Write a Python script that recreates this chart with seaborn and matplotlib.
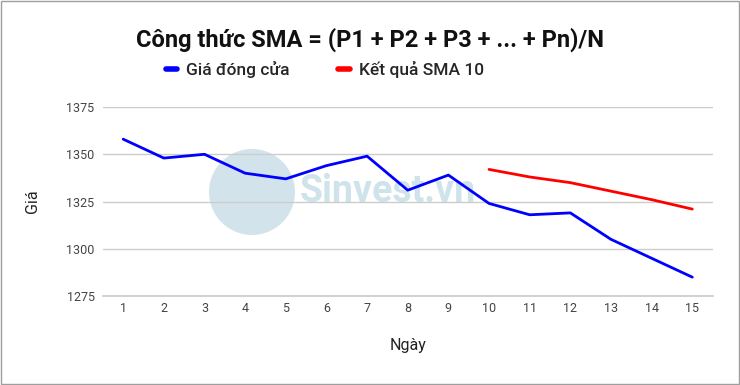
import numpy as np
import pandas as pd
import matplotlib
matplotlib.use('Agg')
import matplotlib.pyplot as plt
import seaborn as sns
from matplotlib.patches import Rectangle, Ellipse

# data
ngay = list(range(1, 16))
gia_dong_cua = [1358, 1348, 1350, 1340, 1337, 1344, 1349, 1331, 1339, 1324,
                1318, 1319, 1305, 1295, 1285]
ngay_sma = list(range(10, 16))
sma_10 = [1342, 1338, 1335, 1330.5, 1326, 1321]
y_ticks = [1275, 1300, 1325, 1350, 1375]

sns.set_theme(style='white')
plt.rcParams['font.family'] = ['Roboto', 'DejaVu Sans']

df_price = pd.DataFrame({'Ngày': ngay, 'Giá': gia_dong_cua})
df_sma = pd.DataFrame({'Ngày': ngay_sma, 'Giá': sma_10})

fig = plt.figure(figsize=(7.4, 3.85), dpi=100)
ax = fig.add_axes([0.139, 0.231, 0.824, 0.491])
ax.set_zorder(2)
ax.patch.set_alpha(0)

# watermark (behind the plot)
fig.patches.append(Ellipse((252 / 740, 1 - 192 / 385), 86 / 740, 86 / 385,
                           transform=fig.transFigure, facecolor='#c9dde7',
                           edgecolor='none', alpha=0.8, zorder=0))
fig.text(300 / 740, 1 - 192 / 385, 'Sinvest.vn', fontsize=27, fontweight='bold',
         color='#cfe3ea', ha='left', va='center', zorder=0)

sns.lineplot(data=df_price, x='Ngày', y='Giá', color='#0000ff', linewidth=2,
             label='Giá đóng cửa', ax=ax, legend=False)
sns.lineplot(data=df_sma, x='Ngày', y='Giá', color='#ff0000', linewidth=2,
             label='Kết quả SMA 10', ax=ax, legend=False)

ax.set_xlim(0.5, 15.5)
ax.set_ylim(1275, 1375)
ax.set_xticks(ngay)
ax.set_yticks(y_ticks)
ax.grid(axis='y', color='#cccccc', linewidth=1)
ax.grid(axis='x', visible=False)
for s in ['top', 'right', 'left']:
    ax.spines[s].set_visible(False)
ax.spines['bottom'].set_color('#cccccc')
ax.tick_params(axis='both', length=0, labelsize=9, labelcolor='#444444')
ax.tick_params(axis='x', pad=4)
ax.tick_params(axis='y', pad=6)
ax.set_xlabel('Ngày', fontsize=11.5, color='#222222', labelpad=17)
ax.set_ylabel('Giá', fontsize=11.5, color='#222222', labelpad=19)

fig.text(0.5, 1 - 40 / 385, 'Công thức SMA = (P1 + P2 + P3 + ... + Pn)/N',
         ha='center', va='center', fontsize=17, fontweight='bold', color='#111111')

handles, labels = ax.get_legend_handles_labels()
leg = fig.legend(handles, labels, loc='center', bbox_to_anchor=(325 / 740, 1 - 70 / 385),
                 ncol=2, frameon=False, handlelength=0.65, columnspacing=2.8,
                 handletextpad=0.55, prop={'size': 12.5, 'weight': 'medium'})
for h in leg.get_lines():
    h.set_linewidth(4)

fig.patches.append(Rectangle((0.001, 0.002), 0.997, 0.995, transform=fig.transFigure,
                             fill=False, edgecolor='#9e9e9e', linewidth=1))

fig.savefig('out.png', dpi=100)
